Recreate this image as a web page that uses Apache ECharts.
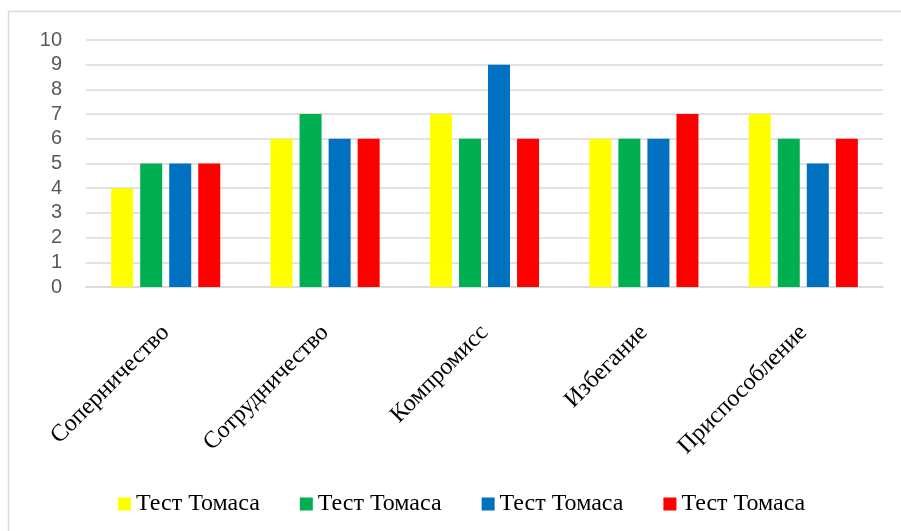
<!DOCTYPE html>
<html>
<head>
<meta charset="utf-8">
<script src="https://cdn.jsdelivr.net/npm/echarts@6/dist/echarts.min.js"></script>
<style>
html,body{margin:0;padding:0;background:#fff;}
#chart{width:901px;height:531px;}
</style>
</head>
<body>
<div id="chart"></div>
<script>
const categories = ['Соперничество', 'Сотрудничество', 'Компромисс', 'Избегание', 'Приспособление'];
const seriesLabel = 'Тест Томаса';
const seriesKeys = ['s1', 's2', 's3', 's4'];
const seriesColors = ['#FFFF00', '#00B050', '#0070C0', '#FF0000'];
const values1 = [4, 6, 7, 6, 7];
const values2 = [5, 7, 6, 6, 6];
const values3 = [5, 6, 9, 6, 5];
const values4 = [5, 6, 6, 7, 6];
const yTicks = [0, 10, 1];

const allValues = [values1, values2, values3, values4];
const chart = echarts.init(document.getElementById('chart'));
chart.setOption({
  animation: false,
  backgroundColor: '#fff',
  graphic: [{
    type: 'rect',
    shape: { x: 8.5, y: 11.5, width: 1000, height: 1000 },
    style: { fill: 'none', stroke: '#d9d9d9', lineWidth: 1.5 },
    silent: true
  }],
  grid: { left: 86, right: 18, top: 40, bottom: 244, containLabel: false },
  legend: {
    left: 113, top: 487,
    itemWidth: 13, itemHeight: 13, itemGap: 40,
    icon: 'rect',
    formatter: function () { return seriesLabel; },
    textStyle: { fontFamily: 'Liberation Serif', fontSize: 24, color: '#000' }
  },
  xAxis: {
    type: 'category',
    data: categories,
    axisLine: { lineStyle: { color: '#d9d9d9', width: 1.5 } },
    axisTick: { show: false },
    axisLabel: { rotate: 45, margin: 42, interval: 0, fontFamily: 'Liberation Serif', fontSize: 24, color: '#000' }
  },
  yAxis: {
    type: 'value',
    min: yTicks[0], max: yTicks[1], interval: yTicks[2],
    axisLine: { show: false },
    axisTick: { show: false },
    splitLine: { lineStyle: { color: '#d9d9d9', width: 1.5 } },
    axisLabel: { margin: 24, fontFamily: 'Liberation Sans', fontSize: 20, color: '#595959' }
  },
  series: seriesKeys.map((k, i) => ({
    name: k,
    type: 'bar',
    data: allValues[i],
    barWidth: 22,
    barGap: '32%',
    itemStyle: { color: seriesColors[i] }
  }))
});
</script>
</body>
</html>
